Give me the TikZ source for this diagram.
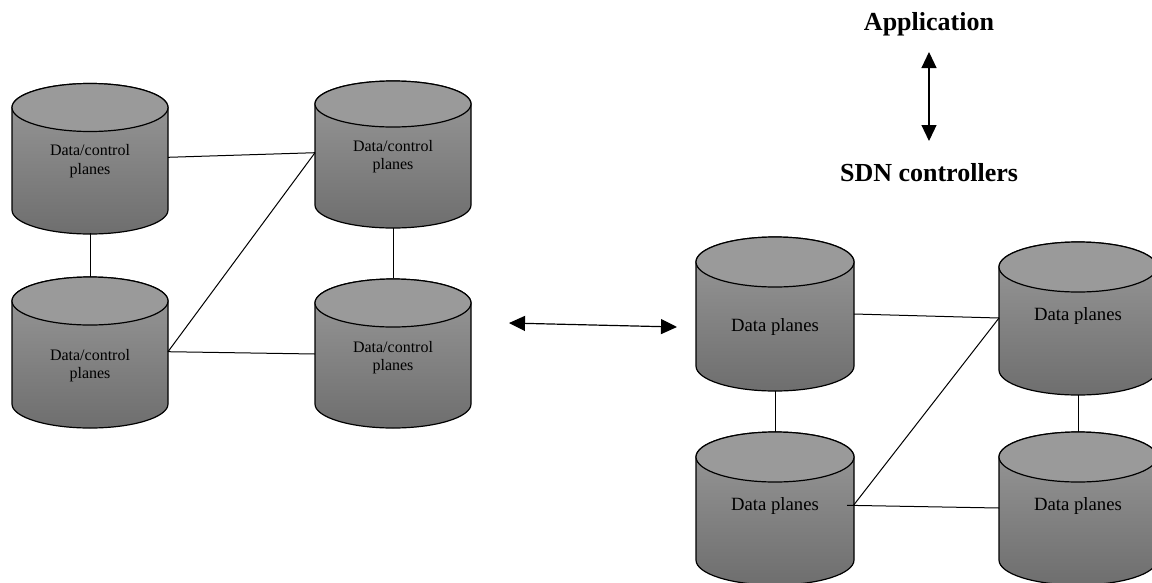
\documentclass[tikz,border=0pt]{standalone}
\usepackage{fontspec}
\setmainfont{Liberation Serif}
\usetikzlibrary{arrows.meta}
\definecolor{cyltop}{HTML}{9A9A9A}
\definecolor{cylbot}{HTML}{6E6E6E}
\newcommand\drawcyl[5]{%
  \shade[top color=cyltop, bottom color=cylbot, draw=black, line width=1.2pt]
    ({#1-#4},#2) -- ({#1-#4},#3) arc[start angle=180,end angle=0,x radius=#4,y radius=#5]
    -- ({#1+#4},#2) arc[start angle=0,end angle=-180,x radius=#4,y radius=#5] -- cycle;
  \draw[fill=cyltop, line width=1.2pt] (#1,#2) ellipse[x radius=#4, y radius=#5];
}
\begin{document}
\begin{tikzpicture}[x=1pt,y=-1pt,
  link/.style={line width=1pt},
  dblarrow/.style={{Triangle[length=16pt,width=15pt]}-{Triangle[length=16pt,width=15pt]}, line width=1.2pt},
  ctrltext/.style={align=center, font=\fontsize{16}{18.5}\selectfont, inner sep=0pt},
  datatext/.style={font=\fontsize{18.7}{22}\selectfont, inner sep=0pt},
  headtext/.style={font=\fontsize{26}{30}\selectfont\bfseries, inner sep=0pt, anchor=base}]
\useasboundingbox (0,0) rectangle (1152,582);
\fill[white] (0,0) rectangle (1152,582);
\clip (0,0) rectangle (1152,582);

% left cluster
\drawcyl{90}{107.5}{210}{78}{24}
\drawcyl{393}{104}{205}{78}{23}
\drawcyl{90}{301}{404}{78}{24}
\drawcyl{393}{303}{404}{78}{24}
\node[ctrltext] (ltl) at (90,161) {Data/control\\planes};
\node[ctrltext] (ltr) at (393,156.5) {Data/control\\planes};
\node[ctrltext] (lbl) at (90,365.5) {Data/control\\planes};
\node[ctrltext] (lbr) at (393,357.5) {Data/control\\planes};

% right cluster
\drawcyl{775}{262}{366}{79}{25}
\drawcyl{1078}{267}{370}{79}{25}
\drawcyl{775}{457}{560}{79}{25}
\drawcyl{1078}{457}{560}{79}{25}
\node[datatext] (rtl) at (775,327) {Data planes};
\node[datatext] (rtr) at (1078,316) {Data planes};
\node[datatext] (rbl) at (775,506) {Data planes};
\node[datatext] (rbr) at (1078,506) {Data planes};

% headings
\node[headtext] (app) at (929,30.7) {Application};
\node[headtext] (sdn) at (929,181.7) {SDN controllers};

% connector end points
\coordinate (ltlE) at (168,157.3);
\coordinate (ltlS) at (90,233);
\coordinate (ltrW) at (315,152.7);
\coordinate (ltrS) at (393,228);
\coordinate (lblN) at (90,277);
\coordinate (lblE) at (168,351.7);
\coordinate (lbrN) at (393,278);
\coordinate (lbrW) at (315,354);

\coordinate (rtlE) at (854,314);
\coordinate (rtlS) at (775,391);
\coordinate (rtrW) at (999,318);
\coordinate (rtrS) at (1078,395);
\coordinate (rblN) at (775,432);
\coordinate (rblE) at (853.5,505.3);
\coordinate (rblT) at (847,505.3);
\coordinate (rbrN) at (1078,432);
\coordinate (rbrW) at (999,508);

\coordinate (appS) at (929,52);
\coordinate (sdnN) at (929,141);
\coordinate (midW) at (509,323);
\coordinate (midE) at (677,327);

% links
\draw[link] (ltlE) -- (ltrW);
\draw[link] (ltlS) -- (lblN);
\draw[link] (ltrS) -- (lbrN);
\draw[link] (lblE) -- (ltrW);
\draw[link] (lblE) -- (lbrW);

\draw[link] (rtlE) -- (rtrW);
\draw[link] (rtlS) -- (rblN);
\draw[link] (rtrS) -- (rbrN);
\draw[link] (rblE) -- (rtrW);
\draw[link] (rblT) -- (rbrW);

% arrows
\draw[dblarrow] (appS) -- (sdnN);
\draw[dblarrow] (midW) -- (midE);
\end{tikzpicture}
\end{document}
